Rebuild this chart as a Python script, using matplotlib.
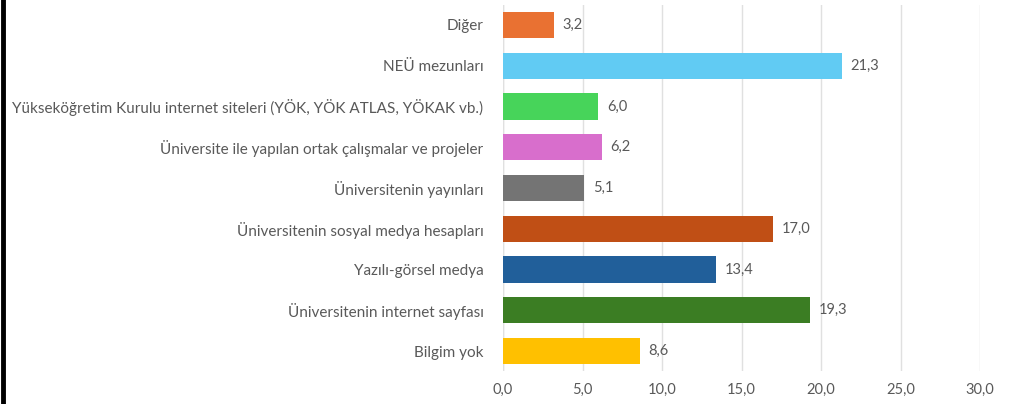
import matplotlib.pyplot as plt
from matplotlib.lines import Line2D
from matplotlib.ticker import FuncFormatter

# kategoriler (yukarıdan aşağıya)
categories = [
    'Diğer',
    'NEÜ mezunları',
    'Yükseköğretim Kurulu internet siteleri (YÖK, YÖK ATLAS, YÖKAK vb.)',
    'Üniversite ile yapılan ortak çalışmalar ve projeler',
    'Üniversitenin yayınları',
    'Üniversitenin sosyal medya hesapları',
    'Yazılı-görsel medya',
    'Üniversitenin internet sayfası',
    'Bilgim yok',
]
values = [3.2, 21.3, 6.0, 6.2, 5.1, 17.0, 13.4, 19.3, 8.6]
colors = ['#E97132', '#61CBF3', '#47D45A', '#D86ECC', '#747474',
          '#C04F15', '#215F9A', '#3B7D23', '#FFC000']
xticks = [0, 5, 10, 15, 20, 25, 30]

plt.rcParams['font.family'] = ['Lato', 'DejaVu Sans']
text_color = '#595959'

fig = plt.figure(figsize=(10.27, 4.04), dpi=100)
ax = fig.add_axes([0.4898, 0.0807, 0.4645, 0.908])

ypos = list(range(len(categories)))
ax.barh(ypos, values, height=0.64, color=colors, zorder=3)

for y, v in zip(ypos, values):
    ax.text(v + 0.55, y, f'{v:.1f}'.replace('.', ','), va='center', ha='left',
            fontsize=10.5, color=text_color)

ax.set_xlim(0, 30)
ax.set_ylim(len(categories) - 0.5, -0.5)
ax.set_xticks(xticks)
ax.xaxis.set_major_formatter(FuncFormatter(lambda x, p: f'{x:.1f}'.replace('.', ',')))
ax.set_yticks(ypos)
ax.set_yticklabels(categories)
ax.tick_params(axis='both', length=0, labelsize=10.5, labelcolor=text_color)
ax.tick_params(axis='y', labelsize=11, pad=14)
ax.tick_params(axis='x', pad=8)

ax.grid(axis='x', color='#e0e0e0', linewidth=1, zorder=0)
ax.axvline(0, color='#e0e0e0', linewidth=1, zorder=1)
for s in ax.spines.values():
    s.set_visible(False)

# sol kenardaki siyah çizgi
fig.add_artist(Line2D([0.0029, 0.0029], [0, 1], color='black', linewidth=3.5,
                      transform=fig.transFigure))

fig.savefig('out.png', dpi=100)
